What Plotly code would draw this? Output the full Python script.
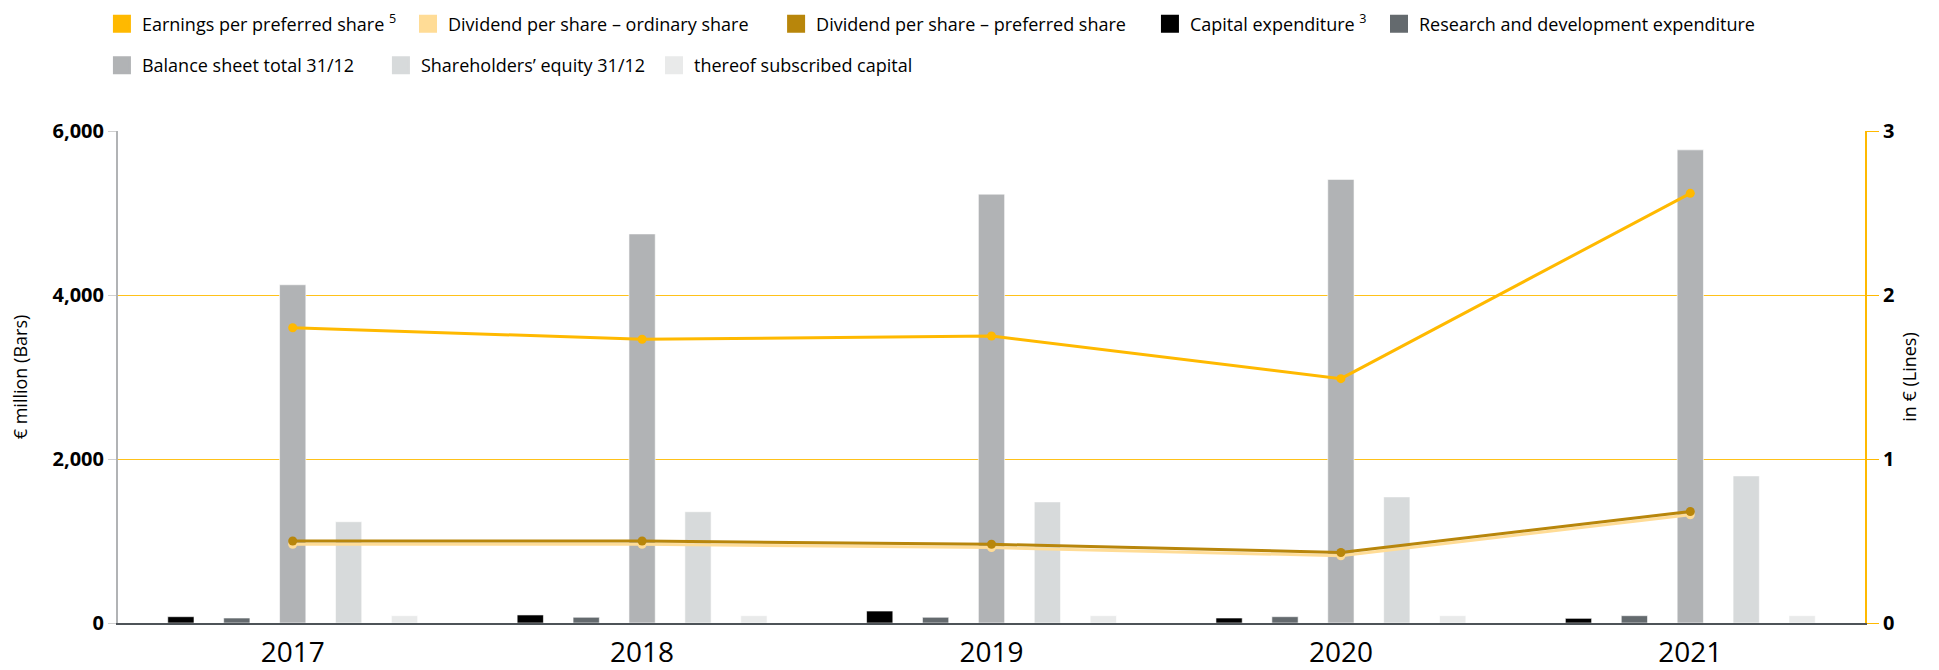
import plotly.graph_objects as go

years = ["2017", "2018", "2019", "2020", "2021"]

# Bars (€ million)
capex = [77, 98, 146, 61, 57]
rnd = [61, 70, 70, 77, 89]
balance_total = [4125, 4745, 5230, 5410, 5770]
equity = [1235, 1357, 1477, 1538, 1794]
subscribed = [89, 89, 89, 89, 89]

# Lines (€)
eps_pref = [1.80, 1.73, 1.75, 1.49, 2.62]
div_ord = [0.48, 0.48, 0.46, 0.41, 0.66]
div_pref = [0.50, 0.50, 0.48, 0.43, 0.68]

FONT = "Open Sans"
C_EPS = "#FFB900"
C_DORD = "#FFDC96"
C_DPREF = "#B8860B"
C_CAPEX = "#000000"
C_RND = "#646A6E"
C_BS = "#B1B3B5"
C_EQ = "#D7DADB"
C_SUB = "#E9EAEA"

fig = go.Figure()

# legend entries (square symbols), one legend box each
legend_items = [
    ("Earnings per preferred share <sup>5</sup>", C_EPS, "legend"),
    ("Dividend per share – ordinary share", C_DORD, "legend2"),
    ("Dividend per share – preferred share", C_DPREF, "legend3"),
    ("Capital expenditure <sup>3</sup>", C_CAPEX, "legend4"),
    ("Research and development expenditure", C_RND, "legend5"),
    ("Balance sheet total 31/12", C_BS, "legend6"),
    ("Shareholders’ equity 31/12", C_EQ, "legend7"),
    ("thereof subscribed capital", C_SUB, "legend8"),
]
for name, col, lg in legend_items:
    fig.add_trace(go.Scatter(x=[None], y=[None], mode="markers", name=name,
                             marker=dict(symbol="square", size=16, color=col,
                                         line=dict(color=col, width=2)),
                             legend=lg, showlegend=True, hoverinfo="skip"))

bar_specs = [
    ("Capital expenditure", capex, C_CAPEX),
    ("Research and development expenditure", rnd, C_RND),
    ("Balance sheet total 31/12", balance_total, C_BS),
    ("Shareholders’ equity 31/12", equity, C_EQ),
    ("thereof subscribed capital", subscribed, C_SUB),
]
for name, vals, col in bar_specs:
    fig.add_trace(go.Bar(x=years, y=vals, name=name, showlegend=False,
                         marker=dict(color=col, line=dict(color="rgba(255,255,255,0.6)", width=1)),
                         yaxis="y"))

for name, vals, col in [("Dividend per share – ordinary share", div_ord, C_DORD),
                        ("Dividend per share – preferred share", div_pref, C_DPREF),
                        ("Earnings per preferred share", eps_pref, C_EPS)]:
    fig.add_trace(go.Scatter(x=years, y=vals, name=name, mode="lines+markers",
                             line=dict(color=col, width=3),
                             marker=dict(color=col, size=9),
                             yaxis="y2", showlegend=False))

ROW1, ROW2 = 1.2175, 1.133
legend_pos = {
    "legend": (-0.0092, ROW1), "legend2": (0.1660, ROW1), "legend3": (0.3767, ROW1),
    "legend4": (0.5907, ROW1), "legend5": (0.7218, ROW1),
    "legend6": (-0.0092, ROW2), "legend7": (0.1505, ROW2), "legend8": (0.3068, ROW2),
}
legends = {}
for key, (lx, ly) in legend_pos.items():
    legends[key] = dict(orientation="h", x=lx, xanchor="left", y=ly, yanchor="middle",
                        font=dict(size=18, family=FONT, color="#000"),
                        bgcolor="rgba(0,0,0,0)", itemclick=False, itemdoubleclick=False)

fig.update_layout(
    width=1939, height=670,
    margin=dict(l=110, r=82, t=123, b=55, autoexpand=False),
    paper_bgcolor="white", plot_bgcolor="white",
    font=dict(family=FONT, color="#000000"),
    barmode="group", bargap=0.2, bargroupgap=0.53,
    xaxis=dict(type="category", showgrid=False, showline=True, linecolor="#4D5358",
               linewidth=2, tickfont=dict(size=28, color="#000"), ticks="outside",
               ticklen=3, tickcolor="rgba(0,0,0,0)", automargin=False),
    yaxis=dict(range=[0, 6000], tickvals=[0, 2000, 4000, 6000], tickformat=",",
               showgrid=True, gridcolor="#FFC21A", gridwidth=1, zeroline=False,
               showline=True, linecolor="#B1B3B5", linewidth=2,
               ticks="outside", ticklen=8, tickcolor="#D0D0D0", automargin=False,
               tickfont=dict(size=20, color="#000", family=FONT, weight="bold"),
               title=dict(text="€ million (Bars)", font=dict(size=18), standoff=26)),
    yaxis2=dict(range=[0, 3], tickvals=[0, 1, 2, 3], overlaying="y", side="right",
                showgrid=False, zeroline=False, showline=True, linecolor=C_EPS, linewidth=2,
                ticks="outside", ticklen=12, tickcolor=C_EPS, automargin=False,
                tickfont=dict(size=20, color="#000", family=FONT, weight="bold"),
                title=dict(text="in € (Lines)", font=dict(size=18), standoff=10)),
    **legends,
)

fig.write_html("out.html")
